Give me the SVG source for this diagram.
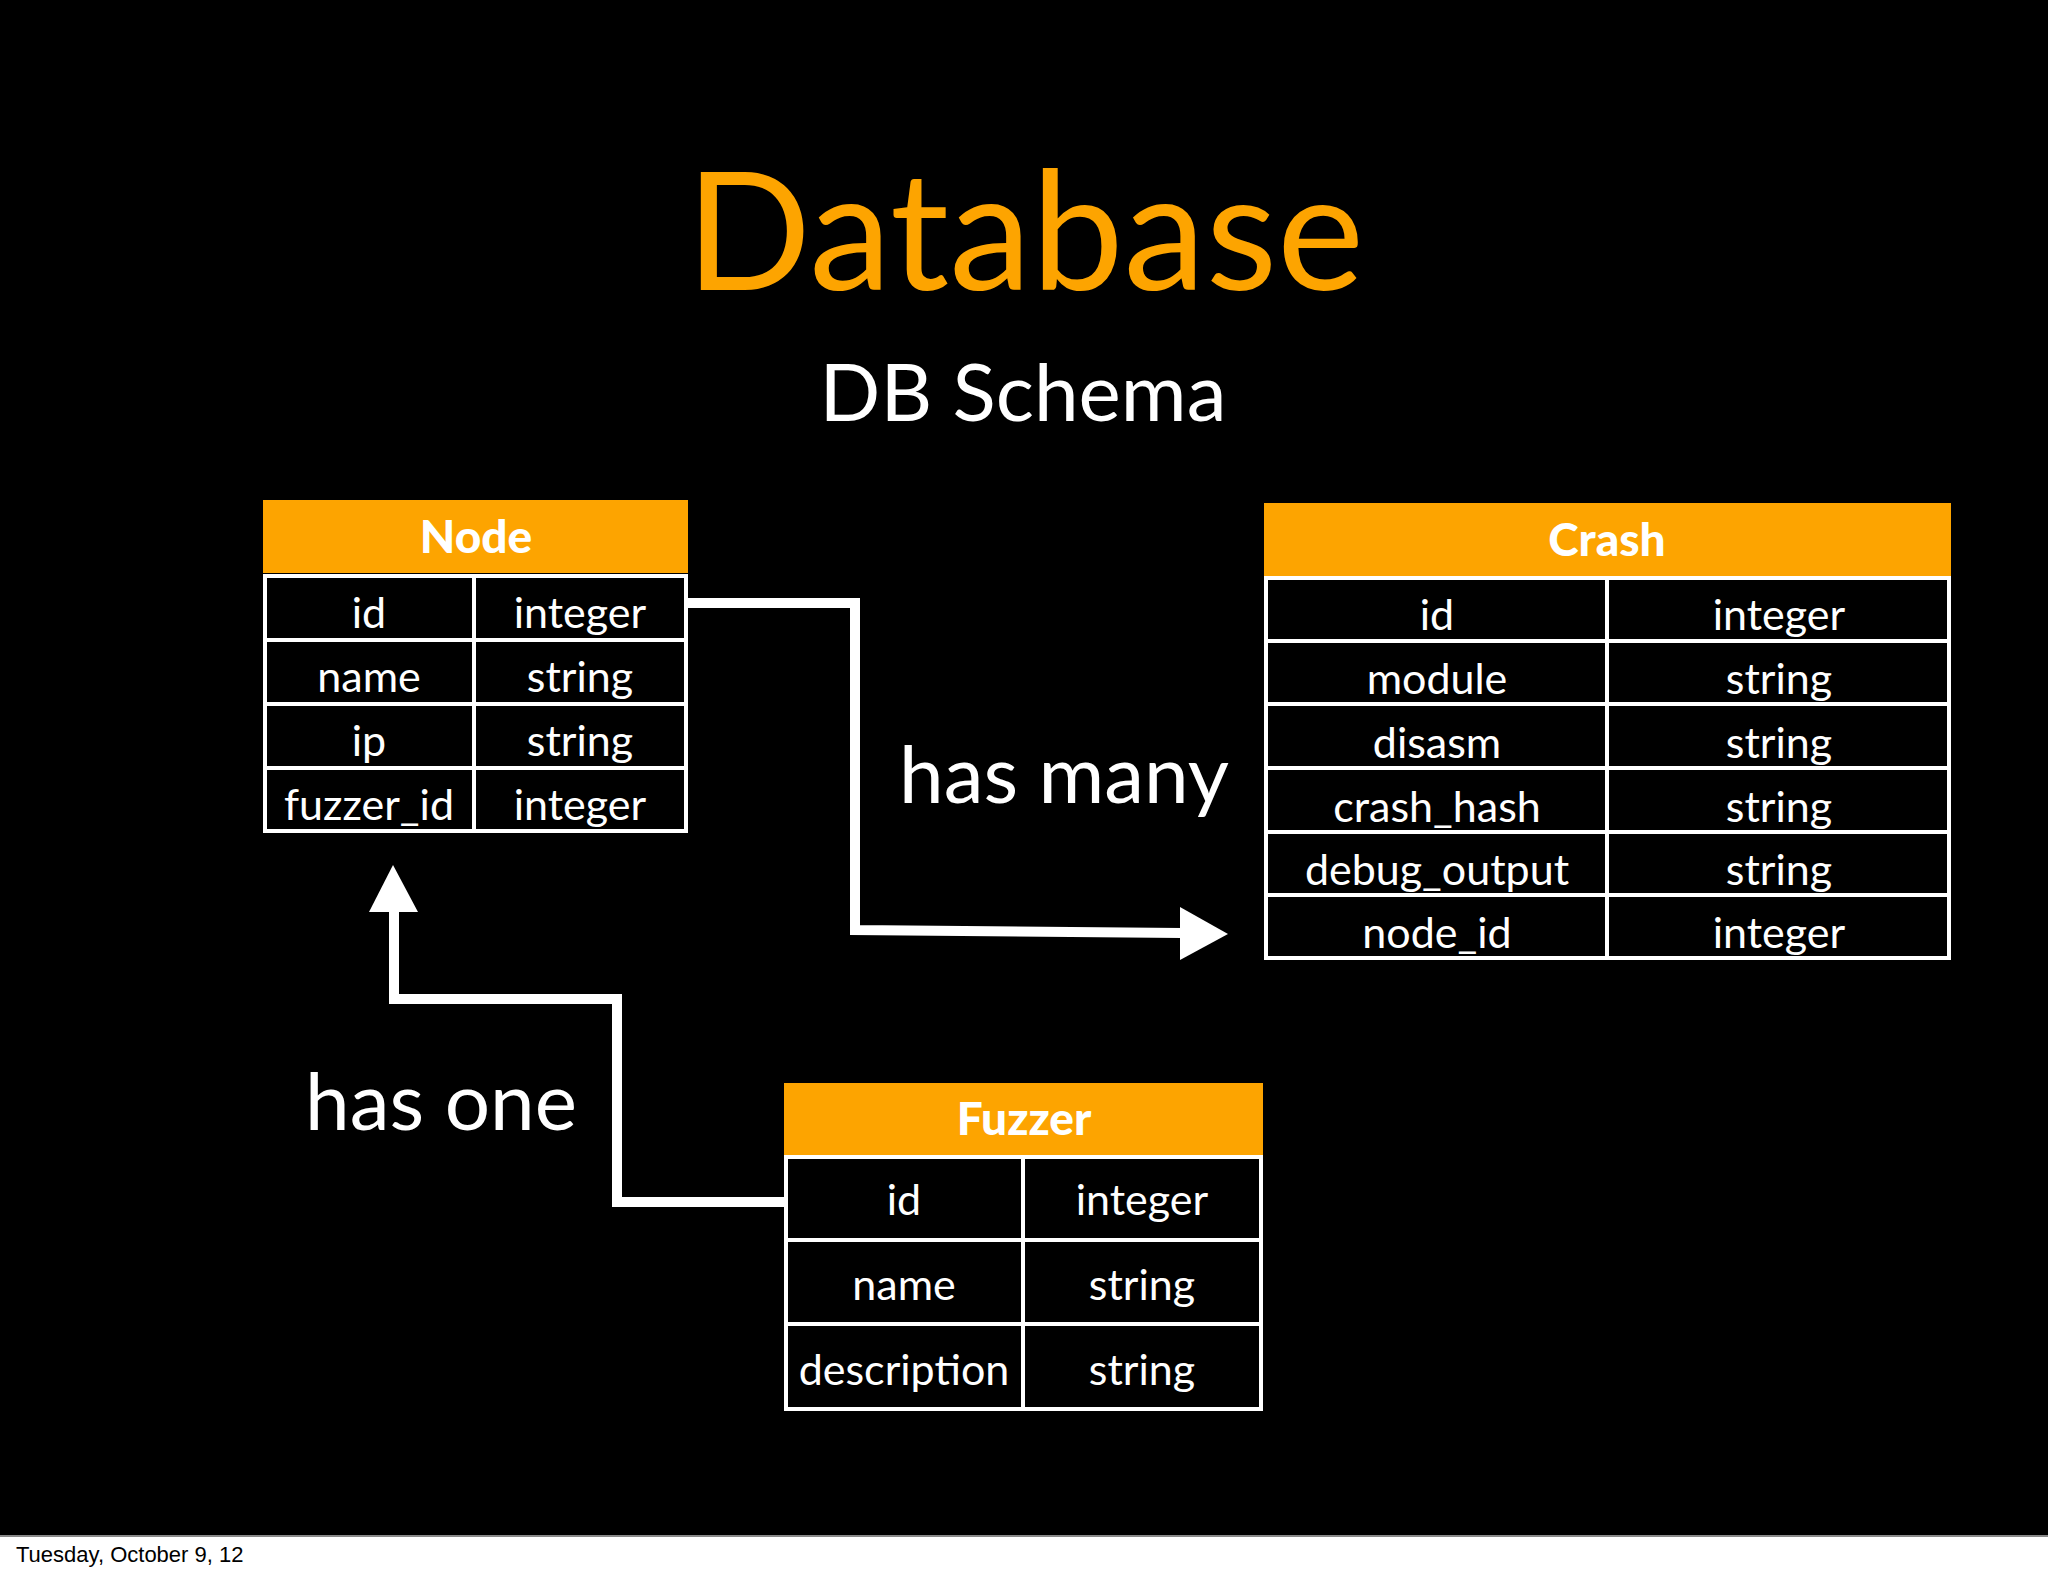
<svg xmlns="http://www.w3.org/2000/svg" width="2048" height="1576" viewBox="0 0 2048 1576">
<style>
.t{font-family:Lato,"Open Sans",sans-serif;fill:#fff;text-anchor:middle}
.c{font-size:43px}
.h{font-size:46px;font-weight:900}
.hd{fill:#fda400}
.cell{fill:#000;stroke:#fff;stroke-width:4}
.cn{fill:none;stroke:#fff;stroke-width:10}
</style>
<rect width="2048" height="1536" fill="#000"/>
<rect y="1536" width="2048" height="40" fill="#fff"/>
<line x1="0" y1="1536" x2="2048" y2="1536" stroke="#888" stroke-width="2"/>
<text x="16" y="1562" style="font-family:'Liberation Sans',sans-serif;font-size:22px;fill:#000">Tuesday, October 9, 12</text>
<text x="1025" y="290" class="t" style="font-size:165px;fill:#fda400">Database</text>
<text x="1023" y="421" class="t" style="font-size:80px">DB Schema</text>
<g id="node-table">
<rect class="hd" x="263" y="500" width="425" height="73"/>
<text class="t h" x="476" y="553">Node</text>
<g class="cell"><rect x="265" y="576" width="209" height="64"/><rect x="474" y="576" width="212" height="64"/>
<rect x="265" y="640" width="209" height="64"/><rect x="474" y="640" width="212" height="64"/>
<rect x="265" y="704" width="209" height="64"/><rect x="474" y="704" width="212" height="64"/>
<rect x="265" y="768" width="209" height="63"/><rect x="474" y="768" width="212" height="63"/></g>
<g class="t c"><text x="369" y="628">id</text><text x="580" y="628">integer</text>
<text x="369" y="692">name</text><text x="580" y="692">string</text>
<text x="369" y="756">ip</text><text x="580" y="756">string</text>
<text x="369" y="820">fuzzer_id</text><text x="580" y="820">integer</text></g>
</g>
<g id="crash-table">
<rect class="hd" x="1264" y="503" width="687" height="73"/>
<text class="t h" x="1607" y="556">Crash</text>
<g class="cell"><rect x="1266" y="578" width="341" height="63"/><rect x="1607" y="578" width="342" height="63"/>
<rect x="1266" y="641" width="341" height="63"/><rect x="1607" y="641" width="342" height="63"/>
<rect x="1266" y="704" width="341" height="64"/><rect x="1607" y="704" width="342" height="64"/>
<rect x="1266" y="768" width="341" height="64"/><rect x="1607" y="768" width="342" height="64"/>
<rect x="1266" y="832" width="341" height="63"/><rect x="1607" y="832" width="342" height="63"/>
<rect x="1266" y="895" width="341" height="63"/><rect x="1607" y="895" width="342" height="63"/></g>
<g class="t c"><text x="1437" y="630">id</text><text x="1779" y="630">integer</text>
<text x="1437" y="694">module</text><text x="1779" y="694">string</text>
<text x="1437" y="758">disasm</text><text x="1779" y="758">string</text>
<text x="1437" y="822">crash_hash</text><text x="1779" y="822">string</text>
<text x="1437" y="885">debug_output</text><text x="1779" y="885">string</text>
<text x="1437" y="948">node_id</text><text x="1779" y="948">integer</text></g>
</g>
<g id="fuzzer-table">
<rect class="hd" x="784" y="1083" width="479" height="72"/>
<text class="t h" x="1024" y="1135">Fuzzer</text>
<g class="cell"><rect x="786" y="1157" width="237" height="83"/><rect x="1023" y="1157" width="238" height="83"/>
<rect x="786" y="1240" width="237" height="84"/><rect x="1023" y="1240" width="238" height="84"/>
<rect x="786" y="1324" width="237" height="85"/><rect x="1023" y="1324" width="238" height="85"/></g>
<g class="t c"><text x="904" y="1215">id</text><text x="1142" y="1215">integer</text>
<text x="904" y="1300">name</text><text x="1142" y="1300">string</text>
<text x="904" y="1385">description</text><text x="1142" y="1385">string</text></g>
</g>
<g id="connectors">
<polyline class="cn" points="688,603 855,603 855,930 1182,933"/>
<polygon fill="#fff" points="1180,907 1228,934 1180,960"/>
<polyline class="cn" points="784,1202 617,1202 617,999 394,999 394,910"/>
<polygon fill="#fff" points="369,912 393,865 418,912"/>
<text class="t" x="1064" y="803" style="font-size:80px">has many</text>
<text class="t" x="441" y="1130" style="font-size:80px">has one</text>
</g>
</svg>
